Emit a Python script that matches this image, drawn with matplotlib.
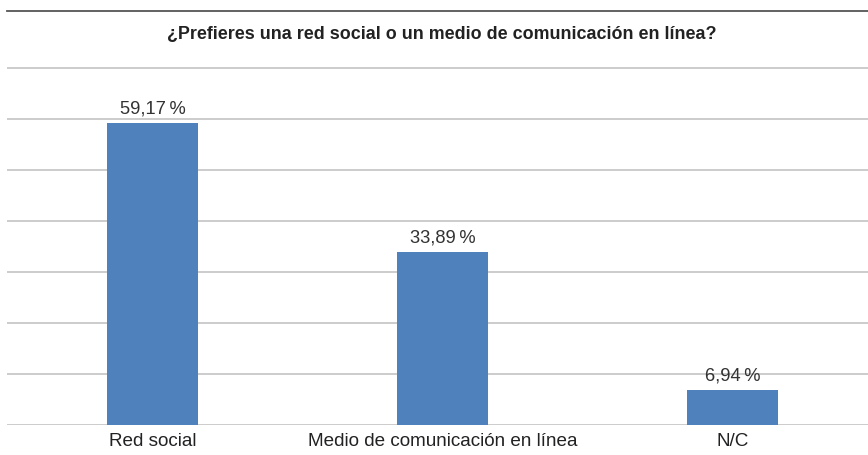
import matplotlib
matplotlib.use('Agg')
import matplotlib.pyplot as plt

# datos de la encuesta
categorias = ['Red social', 'Medio de comunicación en línea', 'N/C']
porcentajes = [59.17, 33.89, 6.94]
etiquetas = ['59,17\u2009%', '33,89\u2009%', '6,94\u2009%']
titulo = '¿Prefieres una red social o un medio de comunicación en línea?'

plt.rcParams['font.family'] = ['Liberation Sans', 'DejaVu Sans']

fig = plt.figure(figsize=(8.68, 4.55), dpi=100)
# eje en pixeles: izquierda 7, derecha 868, abajo 425, arriba 11
ax = fig.add_axes([7/868, (455-425)/455, (868-7)/868, (425-11)/455])

x = range(len(categorias))
ax.bar(x, porcentajes, width=0.314, color='#4f81bd', zorder=3)

for i, (v, t) in enumerate(zip(porcentajes, etiquetas)):
    ax.annotate(t, (i, v), xytext=(0, 4), textcoords='offset points',
                ha='center', va='bottom', fontsize=13.2, color='#333333')

ax.set_xlim(-0.502, 2.467)
ax.set_ylim(0, 81.2)
ax.set_yticks(range(0, 80, 10))
ax.yaxis.grid(True, color='#c4c4c4', linewidth=1.2, zorder=0)
ax.tick_params(axis='y', left=False, labelleft=False)
ax.set_xticks(list(x))
ax.set_xticklabels(categorias, fontsize=13.6, color='#222222')
ax.tick_params(axis='x', length=0, pad=5.5)

for s in ['left', 'right', 'bottom']:
    ax.spines[s].set_visible(False)
ax.spines['top'].set_color('#555555')
ax.spines['top'].set_linewidth(1.3)

fig.text(442/868, 1 - 35/455, titulo, ha='center', va='center',
         fontsize=12.9, fontweight='bold', color='#222222')

fig.savefig('out.png', dpi=100)
